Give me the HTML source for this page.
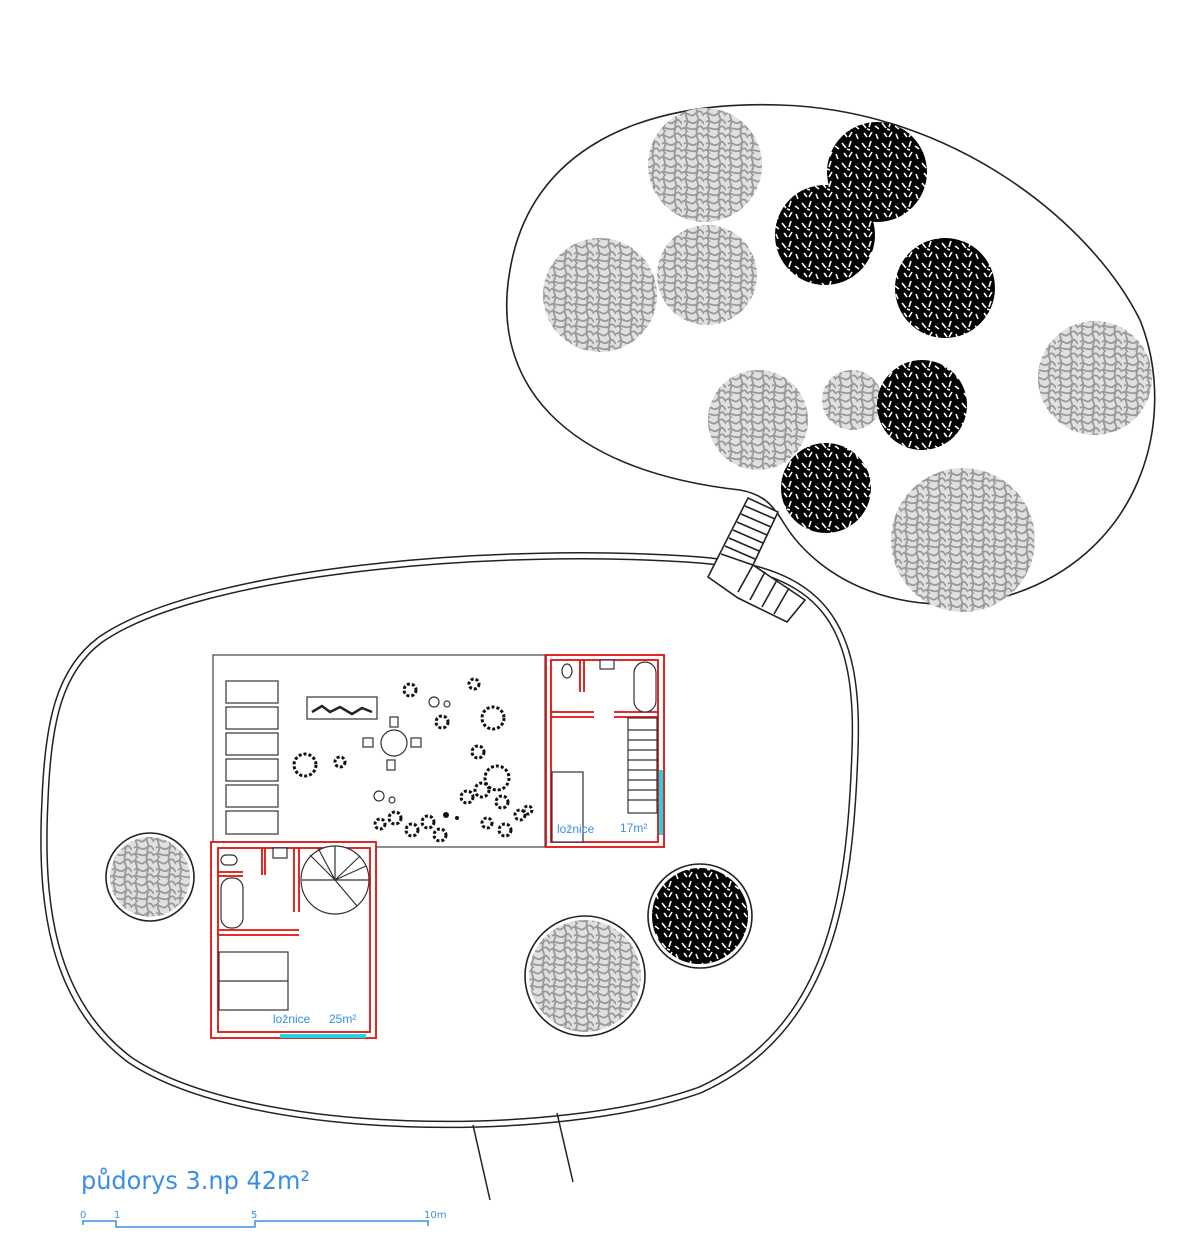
<!DOCTYPE html>
<html><head><meta charset="utf-8"><style>
html,body{margin:0;padding:0;background:#fff;}
svg{display:block;}
</style></head><body>
<svg width="1200" height="1251" viewBox="0 0 1200 1251" xmlns="http://www.w3.org/2000/svg">
<defs>
<pattern id="g" width="22" height="22" patternUnits="userSpaceOnUse">
<rect width="22" height="22" fill="#e0e0e0"/>
<path d="M0 4 C5 0 8 9 13 4 S20 2 22 6 M2 12 C6 8 9 16 14 12 S19 10 22 14 M0 19 C4 15 10 22 15 18 S20 18 22 20 M4 0 C2 6 7 9 5 14 S3 20 6 22 M15 0 C13 5 18 8 16 12 S17 18 14 22" stroke="#999" stroke-width="1.8" fill="none"/>
</pattern>
<pattern id="b" width="20" height="20" patternUnits="userSpaceOnUse">
<rect width="20" height="20" fill="#000"/>
<path d="M2 3 l4 5 M11 1 l-2 6 M15 6 l4 3 M4 13 l3 4 M12 12 l-3 5 M16 14 l2 5 M7 9 l3 1" stroke="#fff" stroke-width="1.6" fill="none"/>
</pattern>
<path id="lb" d="M100 640 C200 570 500 545 700 560 C820 570 860 620 855 750 C850 900 830 1030 700 1090 C560 1140 250 1140 130 1060 C50 1000 40 900 45 800 C48 720 60 670 100 640 Z"/>
</defs>

<!-- upper blob -->
<path d="M740 490 C560 470 490 380 510 270 C530 150 640 100 780 105 C950 110 1090 220 1140 320 C1180 420 1140 560 1000 598 C900 620 820 580 785 525 C772 503 762 494 740 490 Z" fill="none" stroke="#222" stroke-width="1.6"/>

<!-- lower blob -->
<use href="#lb" fill="#fff" stroke="#222" stroke-width="7.5"/>
<use href="#lb" fill="none" stroke="#fff" stroke-width="4.5"/>
<line x1="473" y1="1125" x2="490" y2="1200" stroke="#222" stroke-width="1.5"/>
<line x1="557" y1="1113" x2="573" y2="1182" stroke="#222" stroke-width="1.5"/>

<!-- stairs -->
<g stroke="#222" stroke-width="1.6" fill="#fff">
<polygon points="748,498 778,512 753,565 805,600 787,622 738,598 708,577"/>
<path d="M745 506 L775 519 M741 514 L771 527 M737 522 L767 535 M733 530 L763 543 M729 538 L759 551 M725 546 L755 559 M721 554 L753 565 M753 565 L738 592 M765 572 L750 600 M777 580 L762 607 M789 588 L774 614" fill="none"/>
</g>

<!-- trees upper -->
<g stroke="none">
<circle cx="705" cy="165" r="57" fill="url(#g)"/>
<circle cx="600" cy="295" r="57" fill="url(#g)"/>
<circle cx="707" cy="275" r="50" fill="url(#g)"/>
<circle cx="1095" cy="378" r="57" fill="url(#g)"/>
<circle cx="758" cy="420" r="50" fill="url(#g)"/>
<circle cx="852" cy="400" r="30" fill="url(#g)"/>
<circle cx="963" cy="540" r="72" fill="url(#g)"/>
<circle cx="877" cy="172" r="50" fill="url(#b)"/>
<circle cx="825" cy="235" r="50" fill="url(#b)"/>
<circle cx="945" cy="288" r="50" fill="url(#b)"/>
<circle cx="922" cy="405" r="45" fill="url(#b)"/>
<circle cx="826" cy="488" r="45" fill="url(#b)"/>
</g>

<!-- trees lower -->
<circle cx="150" cy="877" r="44" fill="#fff" stroke="#222" stroke-width="1.6"/>
<circle cx="150" cy="877" r="40" fill="url(#g)"/>
<circle cx="700" cy="916" r="52" fill="#fff" stroke="#222" stroke-width="1.6"/>
<circle cx="700" cy="916" r="48" fill="url(#b)"/>
<circle cx="585" cy="976" r="60" fill="#fff" stroke="#222" stroke-width="1.6"/>
<circle cx="585" cy="976" r="56" fill="url(#g)"/>

<!-- courtyard -->
<rect x="213" y="655" width="332" height="192" fill="#fff" stroke="#444" stroke-width="1.2"/>
<g fill="#fff" stroke="#333" stroke-width="1.2">
<rect x="226" y="681" width="52" height="22"/><rect x="226" y="707" width="52" height="22"/>
<rect x="226" y="733" width="52" height="22"/><rect x="226" y="759" width="52" height="22"/>
<rect x="226" y="785" width="52" height="22"/><rect x="226" y="811" width="52" height="23"/>
<rect x="307" y="697" width="70" height="22"/>
<circle cx="394" cy="743" r="13"/>
<rect x="363" y="738" width="10" height="9"/><rect x="411" y="738" width="10" height="9"/>
<rect x="390" y="717" width="8" height="10"/><rect x="387" y="760" width="8" height="10"/>
<circle cx="434" cy="702" r="5"/><circle cx="447" cy="704" r="3"/>
<circle cx="379" cy="796" r="5"/><circle cx="392" cy="800" r="3"/>
</g>
<path d="M312 712 l10 -6 l8 6 l10 -5 l12 7 l10 -6 l10 4" fill="none" stroke="#222" stroke-width="2.5"/>
<g fill="none" stroke="#111" stroke-width="3" stroke-dasharray="3 2">
<circle cx="410" cy="690" r="6"/><circle cx="474" cy="684" r="5"/><circle cx="442" cy="722" r="6"/>
<circle cx="493" cy="718" r="11"/><circle cx="478" cy="752" r="6"/><circle cx="305" cy="765" r="11"/>
<circle cx="340" cy="762" r="5"/><circle cx="497" cy="778" r="12"/><circle cx="482" cy="790" r="7"/>
<circle cx="467" cy="797" r="6"/><circle cx="502" cy="802" r="6"/><circle cx="395" cy="818" r="6"/>
<circle cx="380" cy="824" r="5"/><circle cx="412" cy="830" r="6"/><circle cx="428" cy="822" r="6"/>
<circle cx="440" cy="835" r="6"/><circle cx="487" cy="823" r="5"/><circle cx="505" cy="830" r="6"/>
<circle cx="520" cy="815" r="5"/><circle cx="528" cy="810" r="4"/>
</g>
<circle cx="446" cy="815" r="3" fill="#111"/><circle cx="457" cy="818" r="2" fill="#111"/>

<!-- right room -->
<g fill="none" stroke="#e01010" stroke-width="1.8">
<rect x="546" y="655" width="118" height="192"/>
<rect x="551" y="660" width="107" height="182"/>
<path d="M580 660 L580 692 M584 660 L584 692 M551 712 L594 712 M551 717 L594 717 M614 712 L658 712 M614 717 L658 717"/>
</g>
<line x1="661" y1="770" x2="661" y2="835" stroke="#18d8e8" stroke-width="4"/>
<g fill="#fff" stroke="#333" stroke-width="1.2">
<rect x="634" y="662" width="22" height="50" rx="11"/>
<rect x="600" y="660" width="14" height="9"/>
<ellipse cx="567" cy="671" rx="5" ry="7"/>
<rect x="552" y="772" width="31" height="70"/>
<rect x="628" y="718" width="29" height="95"/>
<path d="M628 730 H657 M628 740 H657 M628 750 H657 M628 760 H657 M628 770 H657 M628 780 H657 M628 790 H657 M628 800 H657"/>
</g>
<text x="557" y="833" font-family="Liberation Sans, sans-serif" font-size="12" fill="#3a8ee8">ložnice</text>
<text x="620" y="832" font-family="Liberation Sans, sans-serif" font-size="12" fill="#3a8ee8">17m²</text>

<!-- left room -->
<g fill="#fff" stroke="#e01010" stroke-width="1.8">
<rect x="211" y="842" width="165" height="196"/>
<rect x="218" y="848" width="152" height="184"/>
</g>
<g fill="none" stroke="#e01010" stroke-width="1.8">
<path d="M262 848 L262 875 M265 848 L265 875 M294 848 L294 912 M299 848 L299 912 M218 872 L243 872 M218 876 L243 876 M218 930 L299 930 M218 935 L299 935"/>
</g>
<line x1="280" y1="1036" x2="366" y2="1036" stroke="#18d8e8" stroke-width="4"/>
<g fill="#fff" stroke="#333" stroke-width="1.2">
<circle cx="335" cy="880" r="34"/>
<path d="M335 880 L335 846 M335 880 L360 856 M335 880 L369 880 M335 880 L357 906 M335 880 L310 855 M335 880 L302 880 M335 880 L318 848 M335 880 L366 866"/>
<rect x="273" y="848" width="14" height="10"/>
<rect x="221" y="855" width="16" height="10" rx="5"/>
<rect x="221" y="878" width="22" height="50" rx="10"/>
<rect x="219" y="952" width="69" height="58"/>
<line x1="219" y1="981" x2="288" y2="981"/>
</g>
<text x="273" y="1023" font-family="Liberation Sans, sans-serif" font-size="12" fill="#3a8ee8">ložnice</text>
<text x="329" y="1023" font-family="Liberation Sans, sans-serif" font-size="12" fill="#3a8ee8">25m²</text>

<!-- title and scale -->
<text x="81" y="1189" font-family="DejaVu Sans, sans-serif" font-size="25" fill="#3a8ee8" textLength="229" lengthAdjust="spacingAndGlyphs">půdorys 3.np 42m²</text>
<g stroke="#3a8ee8" stroke-width="1.5" fill="none">
<path d="M83 1225 V1221 H116 V1227 H255 V1221 H428 V1226"/>
</g>
<g font-family="DejaVu Sans, sans-serif" font-size="10" fill="#3a8ee8">
<text x="80" y="1218">0</text><text x="114" y="1218">1</text><text x="251" y="1218">5</text><text x="424" y="1218">10m</text>
</g>
</svg>
</body></html>
